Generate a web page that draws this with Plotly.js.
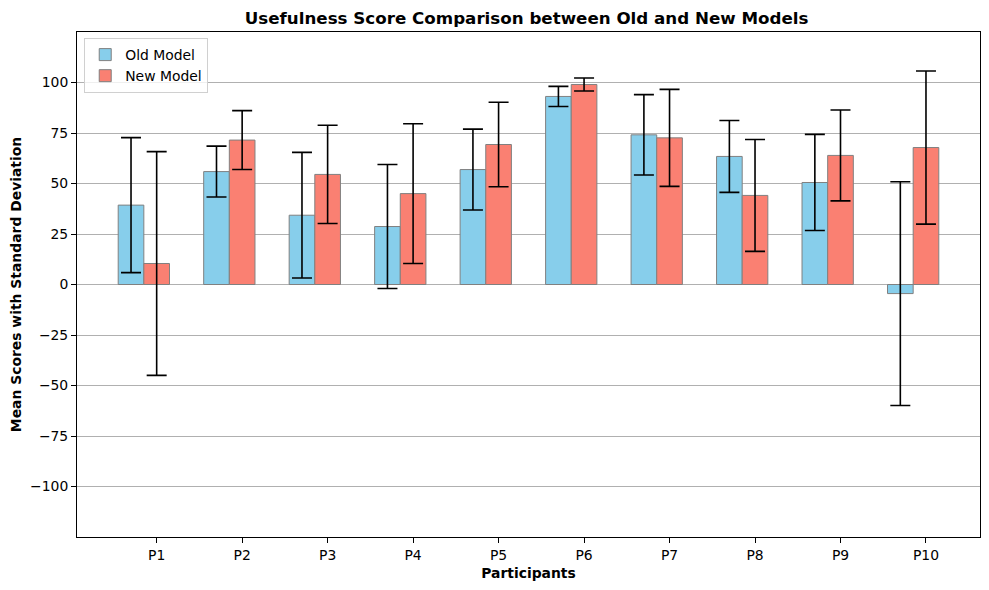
<!DOCTYPE html>
<html>
<head>
<meta charset="utf-8">
<script src="https://cdn.plot.ly/plotly-3.0.1.min.js"></script>
<style>html,body{margin:0;padding:0;background:#fff;}#chart{width:989px;height:590px;}</style>
</head>
<body>
<div id="chart"></div>
<script>
const participants = ["P1","P2","P3","P4","P5","P6","P7","P8","P9","P10"];
const oldMeans = [39.3, 55.9, 34.3, 28.7, 56.9, 93.1, 74.1, 63.4, 50.5, -4.5];
const oldStd   = [33.4, 12.6, 31.1, 30.7, 20.0, 5.0, 19.9, 17.8, 23.8, 55.4];
const newMeans = [10.4, 71.5, 54.5, 45.0, 69.3, 99.0, 72.6, 44.1, 63.9, 67.8];
const newStd   = [55.4, 14.6, 24.3, 34.6, 20.9, 3.2, 24.0, 27.7, 22.5, 37.9];
const yTicks = [-100, -75, -50, -25, 0, 25, 50, 75, 100];

const barWidth = 0.3;
const idx = participants.map((_, i) => i);
const xOld = idx;
const xNew = idx.map(i => i + barWidth);

const errStyle = {type: 'data', visible: true, color: '#000', thickness: 1.6, width: 10};

const traces = [
  {
    type: 'bar', name: 'Old Model', x: xOld, y: oldMeans, width: barWidth,
    marker: {color: '#87CEEB', line: {color: 'grey', width: 1}},
    error_y: Object.assign({array: oldStd}, errStyle),
    hoverinfo: 'y'
  },
  {
    type: 'bar', name: 'New Model', x: xNew, y: newMeans, width: barWidth,
    marker: {color: '#FA8072', line: {color: 'grey', width: 1}},
    error_y: Object.assign({array: newStd}, errStyle),
    hoverinfo: 'y'
  }
];

const FF = 'DejaVu Sans, sans-serif';

const layout = {
  width: 989, height: 590,
  margin: {l: 77, r: 9, t: 32, b: 53},
  paper_bgcolor: '#fff', plot_bgcolor: '#fff',
  font: {family: FF, size: 14, color: '#000'},
  barmode: 'overlay',
  showlegend: true,
  title: {
    text: '<b>Usefulness Score Comparison between Old and New Models</b>',
    font: {family: FF, size: 16.7, color: '#000'},
    x: 0.5325, xanchor: 'center', y: 0.969, yanchor: 'middle'
  },
  xaxis: {
    range: [-0.632, 9.932],
    tickmode: 'array', tickvals: xNew, ticktext: participants,
    ticks: 'outside', ticklen: 5, tickwidth: 1, tickcolor: '#000',
    showgrid: false, zeroline: false,
    showline: true, linecolor: '#000', linewidth: 1, mirror: true,
    tickfont: {family: FF, size: 13.9, color: '#000'},
    title: {text: '<b>Participants</b>', font: {family: FF, size: 13.9, color: '#000'}, standoff: 6}
  },
  yaxis: {
    range: [-125, 125],
    tickmode: 'array', tickvals: yTicks,
    ticks: 'outside', ticklen: 5, tickwidth: 1, tickcolor: '#000',
    showgrid: true, gridcolor: '#b0b0b0', gridwidth: 1,
    zeroline: false,
    showline: true, linecolor: '#000', linewidth: 1, mirror: true,
    tickfont: {family: FF, size: 13.9, color: '#000'},
    title: {text: '<b>Mean Scores with Standard Deviation</b>', font: {family: FF, size: 13.9, color: '#000'}, standoff: 5}
  },
  legend: {
    x: 0.008, y: 0.988, xanchor: 'left', yanchor: 'top',
    bgcolor: 'rgba(255,255,255,0.8)', bordercolor: '#d0d0d0', borderwidth: 1,
    font: {family: FF, size: 13.9, color: '#000'},
    itemwidth: 30, tracegroupgap: 2
  }
};

Plotly.newPlot('chart', traces, layout, {displayModeBar: false, staticPlot: true});
</script>
</body>
</html>
